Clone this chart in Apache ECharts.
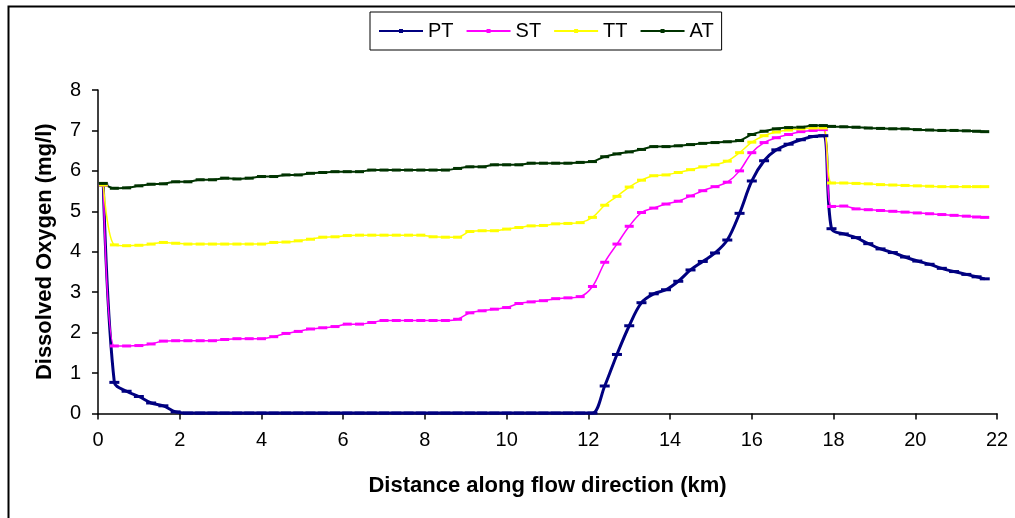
<!DOCTYPE html>
<html>
<head>
<meta charset="utf-8">
<script src="https://cdn.jsdelivr.net/npm/echarts@6/dist/echarts.min.js"></script>
<style>
html,body{margin:0;padding:0;background:#fff;}
#chart{width:1015px;height:518px;}
</style>
</head>
<body>
<div id="chart"></div>
<script>
// Distance along flow direction (km)
const distance = [
  0.13, 0.4, 0.7, 1.0, 1.3, 1.6, 1.9, 2.2, 2.5, 2.8,
  3.1, 3.4, 3.7, 4.0, 4.3, 4.6, 4.9, 5.2, 5.5, 5.8,
  6.1, 6.4, 6.7, 7.0, 7.3, 7.6, 7.9, 8.2, 8.5, 8.8,
  9.1, 9.4, 9.7, 10.0, 10.3, 10.6, 10.9, 11.2, 11.5, 11.8,
  12.1, 12.4, 12.7, 13.0, 13.3, 13.6, 13.9, 14.2, 14.5, 14.8,
  15.1, 15.4, 15.7, 16.0, 16.3, 16.6, 16.9, 17.2, 17.5, 17.75,
  17.95, 18.25, 18.55, 18.85, 19.15, 19.45, 19.75, 20.05, 20.35, 20.65,
  20.95, 21.25, 21.5, 21.7
];
const PT = [
  5.65, 0.77, 0.55, 0.42, 0.26, 0.19, 0.04, 0.01, 0.01, 0.01,
  0.01, 0.01, 0.01, 0.01, 0.01, 0.01, 0.01, 0.01, 0.01, 0.01,
  0.01, 0.01, 0.01, 0.01, 0.01, 0.01, 0.01, 0.01, 0.01, 0.01,
  0.01, 0.01, 0.01, 0.01, 0.01, 0.01, 0.01, 0.01, 0.01, 0.01,
  0.01, 0.68, 1.46, 2.17, 2.74, 2.96, 3.06, 3.27, 3.55, 3.76,
  3.97, 4.29, 4.95, 5.75, 6.25, 6.52, 6.66, 6.77, 6.85, 6.87,
  4.57, 4.44, 4.35, 4.20, 4.07, 3.98, 3.87, 3.77, 3.69, 3.59,
  3.51, 3.44, 3.38, 3.33
];
const ST = [
  5.65, 1.67, 1.67, 1.68, 1.72, 1.79, 1.80, 1.80, 1.80, 1.80,
  1.83, 1.85, 1.85, 1.85, 1.90, 1.98, 2.03, 2.09, 2.12, 2.15,
  2.21, 2.21, 2.25, 2.30, 2.30, 2.30, 2.30, 2.30, 2.30, 2.33,
  2.49, 2.54, 2.58, 2.62, 2.72, 2.76, 2.79, 2.84, 2.86, 2.89,
  3.14, 3.74, 4.19, 4.63, 4.97, 5.08, 5.18, 5.25, 5.38, 5.51,
  5.61, 5.72, 6.00, 6.45, 6.70, 6.82, 6.90, 6.97, 7.00, 7.02,
  5.12, 5.13, 5.06, 5.04, 5.02, 5.00, 4.98, 4.96, 4.94, 4.92,
  4.90, 4.88, 4.86, 4.85
];
const TT = [
  5.65, 4.17, 4.15, 4.16, 4.19, 4.23, 4.21, 4.19, 4.19, 4.19,
  4.19, 4.19, 4.19, 4.19, 4.23, 4.24, 4.27, 4.31, 4.36, 4.37,
  4.40, 4.41, 4.41, 4.41, 4.41, 4.41, 4.41, 4.37, 4.36, 4.36,
  4.50, 4.52, 4.52, 4.56, 4.60, 4.64, 4.65, 4.69, 4.70, 4.72,
  4.85, 5.15, 5.37, 5.60, 5.77, 5.88, 5.90, 5.96, 6.03, 6.10,
  6.15, 6.24, 6.45, 6.71, 6.87, 6.96, 7.01, 7.04, 7.06, 7.06,
  5.70, 5.70, 5.69, 5.68, 5.66, 5.65, 5.64, 5.63, 5.62, 5.61,
  5.61, 5.61, 5.61, 5.61
];
const AT = [
  5.69, 5.57, 5.58, 5.63, 5.67, 5.68, 5.73, 5.73, 5.78, 5.78,
  5.82, 5.80, 5.82, 5.86, 5.86, 5.90, 5.90, 5.94, 5.96, 5.98,
  5.98, 5.98, 6.02, 6.02, 6.02, 6.02, 6.02, 6.02, 6.02, 6.06,
  6.10, 6.10, 6.15, 6.15, 6.15, 6.19, 6.19, 6.19, 6.19, 6.21,
  6.23, 6.35, 6.42, 6.47, 6.53, 6.60, 6.60, 6.62, 6.65, 6.68,
  6.70, 6.72, 6.75, 6.90, 6.98, 7.04, 7.07, 7.08, 7.12, 7.12,
  7.10, 7.09, 7.08, 7.06, 7.05, 7.04, 7.04, 7.02, 7.01, 7.00,
  7.00, 6.99, 6.98, 6.97
];
const xTicks = [0, 2, 4, 6, 8, 10, 12, 14, 16, 18, 20, 22];
const yTicks = [0, 1, 2, 3, 4, 5, 6, 7, 8];
const seriesNames = ['PT', 'ST', 'TT', 'AT'];
const seriesValues = [PT, ST, TT, AT];

const styles = {
  PT: {color: '#000080', width: 3, sym: [10, 3]},
  ST: {color: '#ff00ff', width: 1.5, sym: [9, 3]},
  TT: {color: '#ffff00', width: 1.5, sym: [9, 3]},
  AT: {color: '#003300', width: 2, sym: [9, 3]}
};

const font = 'Liberation Sans, Arial, sans-serif';
const chart = echarts.init(document.getElementById('chart'), null, {renderer: 'canvas'});

const series = seriesNames.map((name, i) => ({
  name: name,
  type: 'line',
  smooth: 0.35,
  data: distance.map((d, j) => [d, seriesValues[i][j]]),
  symbol: 'rect',
  symbolSize: styles[name].sym,
  showSymbol: true,
  lineStyle: {color: styles[name].color, width: styles[name].width},
  itemStyle: {color: styles[name].color},
  emphasis: {disabled: true},
  animation: false
}));

chart.setOption({
  animation: false,
  backgroundColor: '#ffffff',
  graphic: [{
    type: 'rect',
    shape: {x: 8.5, y: 6.5, width: 1030, height: 530},
    style: {fill: 'none', stroke: '#000', lineWidth: 2},
    silent: true
  }],
  legend: {
    data: seriesNames,
    left: 370,
    top: 12,
    padding: [8, 8, 8, 8],
    borderColor: '#000',
    borderWidth: 1,
    itemWidth: 44,
    itemHeight: 5,
    itemGap: 12,
    textStyle: {fontFamily: font, fontSize: 20, color: '#000', lineHeight: 22}
  },
  grid: {left: 98, right: 18, top: 90, bottom: 104.5, containLabel: false},
  xAxis: {
    type: 'value',
    min: xTicks[0],
    max: xTicks[xTicks.length - 1],
    interval: 2,
    name: 'Distance along flow direction (km)',
    nameLocation: 'middle',
    nameGap: 61,
    nameTextStyle: {fontFamily: font, fontSize: 22, fontWeight: 'bold', color: '#000'},
    axisLine: {show: true, lineStyle: {color: '#000', width: 1.5}},
    axisTick: {show: true, length: 6, lineStyle: {color: '#000', width: 1.5}},
    axisLabel: {fontFamily: font, fontSize: 20, color: '#000', margin: 17},
    splitLine: {show: false}
  },
  yAxis: {
    type: 'value',
    min: yTicks[0],
    max: yTicks[yTicks.length - 1],
    interval: 1,
    name: 'Dissolved Oxygen (mg/l)',
    nameLocation: 'middle',
    nameGap: 42,
    nameTextStyle: {fontFamily: font, fontSize: 22, fontWeight: 'bold', color: '#000'},
    axisLine: {show: true, lineStyle: {color: '#000', width: 1.5}},
    axisTick: {show: true, length: 6, lineStyle: {color: '#000', width: 1.5}},
    axisLabel: {fontFamily: font, fontSize: 20, color: '#000', margin: 17},
    splitLine: {show: false}
  },
  series: series
});
</script>
</body>
</html>
